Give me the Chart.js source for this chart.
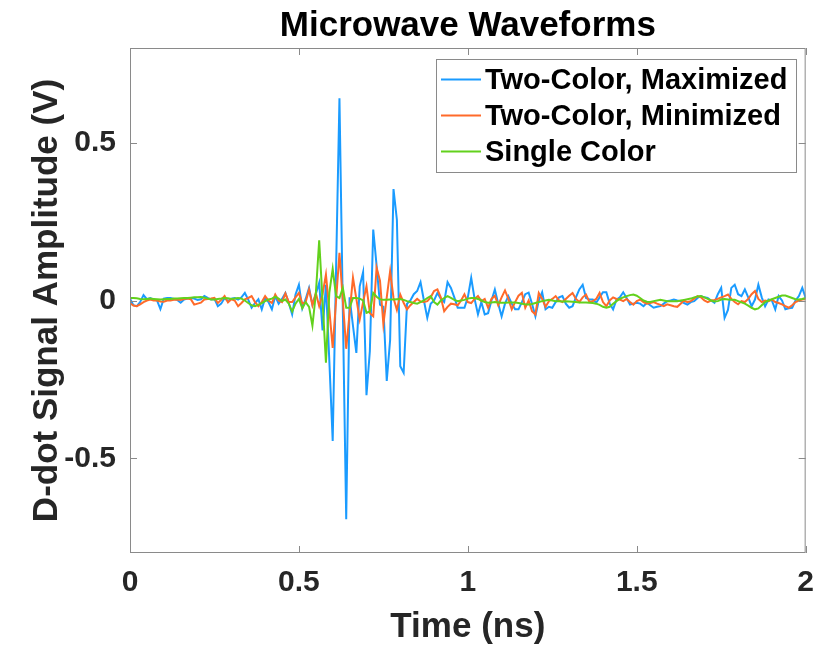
<!DOCTYPE html>
<html lang="en">
<head>
    <meta charset="UTF-8">
    <title>Microwave Waveforms</title>
    <script src="https://cdn.jsdelivr.net/npm/chart.js"></script>
    <style>
        body { margin: 0; background: #fff; }
        canvas { display: block; }
    </style>
</head>
<body>
    <canvas id="waveChart" width="826" height="647"></canvas>
    <script>
        // D-dot probe traces, sampled every 10 ps from 0 to 2 ns
        const sampleStep = 0.01;
        const seriesNames = ['Two-Color, Maximized', 'Two-Color, Minimized', 'Single Color'];
        const seriesColors = ['#1a9bff', '#ff6a2a', '#62d11c'];

        const maximized = [
            0.006, -0.015, -0.018, -0.005, 0.017, 0.004, 0.008, 0.003, 0.000, -0.027,
            0.006, 0.008, 0.008, 0.005, 0.002, -0.007, 0.003, 0.006, 0.008, 0.006,
            0.002, 0.004, 0.014, 0.008, 0.003, 0.005, -0.018, -0.010, 0.008, -0.002,
            0.006, 0.008, 0.003, 0.010, 0.024, 0.003, -0.023, -0.008, 0.004, -0.028,
            0.008, -0.005, -0.028, 0.014, -0.010, 0.005, 0.024, -0.008, -0.044, 0.019,
            0.050, -0.025, 0.005, 0.040, -0.013, 0.020, 0.056, -0.095, 0.050, -0.190,
            -0.445, 0.100, 0.641, -0.030, -0.693, 0.010, -0.080, -0.166, 0.045, 0.090,
            -0.300, -0.160, 0.225, 0.110, -0.013, -0.020, -0.255, -0.125, 0.353, 0.256,
            -0.208, -0.229, -0.010, 0.000, 0.020, 0.030, 0.058, 0.000, -0.055, -0.010,
            0.000, 0.024, 0.005, -0.005, 0.058, 0.040, 0.010, -0.023, -0.023, -0.023,
            0.010, 0.072, 0.005, -0.044, -0.005, -0.044, -0.040, 0.000, 0.035, -0.010,
            -0.050, -0.010, 0.014, -0.010, -0.028, -0.028, -0.005, 0.020, 0.025, -0.010,
            -0.050, 0.000, 0.026, -0.028, -0.020, -0.023, -0.005, 0.010, 0.014, -0.010,
            -0.023, -0.018, 0.010, 0.035, 0.050, 0.008, 0.003, 0.003, -0.007, 0.010,
            0.026, 0.026, -0.010, -0.028, 0.003, 0.010, 0.026, 0.008, -0.013, -0.010,
            -0.007, -0.010, -0.018, -0.007, -0.015, -0.023, -0.020, -0.018, -0.010, -0.002,
            0.000, 0.003, 0.000, -0.002, -0.008, -0.013, -0.005, -0.002, 0.008, 0.014,
            0.010, 0.008, 0.000, -0.007, 0.020, 0.040, -0.055, -0.030, 0.040, 0.050,
            0.020, 0.014, 0.035, 0.010, -0.018, 0.003, 0.050, 0.010, -0.018, 0.003,
            0.000, -0.028, 0.014, 0.000, -0.028, -0.025, -0.023, 0.000, 0.014, 0.040,
            0.008
        ];

        const minimized = [
            -0.008, -0.016, -0.018, -0.012, -0.005, 0.000, 0.003, 0.000, 0.000, -0.003,
            -0.004, 0.000, 0.000, 0.002, 0.003, 0.002, 0.005, 0.006, 0.004, -0.013,
            -0.010, -0.007, 0.003, 0.005, 0.006, 0.008, -0.008, 0.002, 0.014, -0.006,
            0.004, 0.000, -0.018, -0.008, 0.004, 0.008, 0.014, -0.005, -0.018, -0.005,
            0.014, 0.000, -0.008, 0.019, 0.000, -0.005, 0.022, -0.005, -0.005, 0.010,
            0.024, -0.010, -0.005, 0.035, -0.015, 0.024, -0.018, 0.020, 0.082, -0.030,
            -0.150, 0.000, 0.151, 0.000, -0.153, -0.040, 0.072, 0.005, -0.060, -0.005,
            0.045, -0.040, -0.050, 0.104, 0.063, -0.075, 0.010, 0.093, 0.008, -0.030,
            0.019, -0.007, -0.028, -0.015, -0.005, 0.005, -0.003, -0.005, -0.002, 0.010,
            0.030, 0.035, 0.010, -0.034, -0.020, -0.010, -0.012, -0.015, 0.000, 0.020,
            -0.005, -0.008, 0.005, 0.014, -0.002, 0.005, -0.023, 0.005, 0.015, -0.015,
            0.010, 0.032, 0.005, -0.028, -0.005, 0.015, 0.024, -0.023, 0.000, -0.034,
            -0.044, 0.024, 0.005, -0.020, -0.002, 0.005, 0.014, 0.000, -0.005, 0.005,
            0.015, 0.024, 0.005, -0.005, 0.010, 0.019, -0.005, -0.002, 0.005, 0.024,
            -0.005, -0.018, 0.000, 0.010, 0.005, 0.003, -0.002, 0.005, -0.005, -0.013,
            -0.002, 0.003, -0.005, -0.010, -0.008, -0.005, -0.010, -0.014, -0.018, -0.012,
            -0.015, -0.018, -0.020, -0.010, 0.000, -0.005, -0.002, 0.006, 0.014, 0.010,
            0.000, -0.005, 0.000, 0.002, 0.005, 0.010, 0.014, 0.019, 0.005, -0.005,
            -0.012, -0.002, -0.005, 0.005, 0.020, 0.030, 0.005, -0.005, 0.000, -0.002,
            0.003, -0.005, -0.008, -0.012, -0.018, -0.023, -0.015, -0.005, 0.000, 0.003,
            0.005
        ];

        const singleColor = [
            0.008, 0.008, 0.007, 0.005, 0.004, 0.005, 0.006, 0.005, 0.004, 0.003,
            0.004, 0.005, 0.005, 0.006, 0.006, 0.007, 0.008, 0.008, 0.009, 0.010,
            0.010, 0.011, 0.009, 0.006, 0.003, 0.003, 0.005, 0.006, 0.008, 0.007,
            0.005, 0.006, 0.008, 0.006, 0.000, -0.008, -0.015, -0.018, -0.014, -0.008,
            -0.002, 0.003, 0.006, 0.012, 0.006, -0.002, 0.003, -0.010, -0.035, -0.010,
            0.005, -0.025, -0.005, -0.020, -0.080, 0.020, 0.191, 0.000, -0.197, 0.024,
            0.100, 0.014, 0.008, 0.040, -0.023, -0.023, 0.008, 0.008, 0.006, 0.000,
            -0.039, -0.035, 0.024, 0.012, 0.004, 0.002, 0.002, 0.003, 0.003, 0.004,
            0.005, 0.002, -0.002, -0.005, -0.008, -0.010, -0.005, 0.000, 0.008, 0.014,
            -0.005, -0.013, 0.000, 0.008, 0.014, 0.008, 0.002, -0.002, 0.000, 0.002,
            0.006, 0.008, 0.008, 0.005, 0.000, -0.005, -0.007, -0.006, -0.005, -0.006,
            -0.007, -0.007, -0.006, -0.006, -0.006, -0.008, -0.010, -0.012, -0.013, -0.011,
            -0.008, -0.005, -0.002, 0.000, 0.002, 0.000, -0.002, -0.002, -0.003, -0.002,
            -0.003, -0.004, -0.005, -0.006, -0.006, -0.006, -0.007, -0.008, -0.010, -0.014,
            -0.020, -0.023, -0.020, -0.010, -0.002, 0.005, 0.010, 0.014, 0.017, 0.019,
            0.015, 0.008, 0.000, -0.004, -0.005, -0.002, 0.000, 0.002, 0.000, -0.002,
            -0.002, -0.002, -0.002, 0.000, 0.002, 0.004, 0.006, 0.010, 0.013, 0.014,
            0.010, 0.005, 0.000, -0.003, -0.002, 0.003, 0.005, 0.003, 0.002, 0.002,
            -0.002, -0.006, -0.010, -0.016, -0.023, -0.028, -0.025, -0.015, -0.005, 0.000,
            0.004, 0.008, 0.012, 0.016, 0.016, 0.012, 0.008, 0.004, 0.003, 0.005,
            0.008
        ];

        const xTicks = [0, 0.5, 1, 1.5, 2];
        const yTicks = [-0.5, 0, 0.5];

        const timeNs = maximized.map((_, i) => +(i * sampleStep).toFixed(2));
        const toPoints = arr => arr.map((v, i) => ({ x: timeNs[i], y: v }));

        const FONT = '"Liberation Sans", Arial, Helvetica, sans-serif';

        // frame, inward tick marks, title and in-plot legend
        const axesDecor = {
            id: 'axesDecor',
            afterDraw(chart) {
                const ctx = chart.ctx;
                const a = chart.chartArea;
                const xs = chart.scales.x, ys = chart.scales.y;
                const tick = 7;
                ctx.save();
                ctx.strokeStyle = '#8a8a8a';
                ctx.lineWidth = 1;
                ctx.strokeRect(a.left + 0.5, a.top + 0.5, a.right - a.left - 1, a.bottom - a.top - 1);
                ctx.beginPath();
                xTicks.forEach(v => {
                    const px = Math.round(xs.getPixelForValue(v)) + 0.5;
                    ctx.moveTo(px, a.bottom); ctx.lineTo(px, a.bottom - tick);
                    ctx.moveTo(px, a.top); ctx.lineTo(px, a.top + tick);
                });
                yTicks.forEach(v => {
                    const py = Math.round(ys.getPixelForValue(v)) + 0.5;
                    ctx.moveTo(a.left, py); ctx.lineTo(a.left + tick, py);
                    ctx.moveTo(a.right, py); ctx.lineTo(a.right - tick, py);
                });
                ctx.stroke();

                // title
                ctx.fillStyle = '#000';
                ctx.font = 'bold 35px ' + FONT;
                ctx.textAlign = 'center';
                ctx.textBaseline = 'alphabetic';
                ctx.fillText('Microwave Waveforms', (a.left + a.right) / 2, 36);

                // legend box
                const lx = 436.5, ly = 59.5, lw = 360, lh = 113;
                ctx.fillStyle = '#fff';
                ctx.fillRect(lx, ly, lw, lh);
                ctx.strokeStyle = '#8a8a8a';
                ctx.strokeRect(lx, ly, lw, lh);
                ctx.font = 'bold 29px ' + FONT;
                ctx.textAlign = 'left';
                ctx.textBaseline = 'middle';
                chart.data.datasets.forEach((ds, i) => {
                    const ry = 79.5 + i * 36;
                    ctx.strokeStyle = ds.borderColor;
                    ctx.lineWidth = 2;
                    ctx.beginPath();
                    ctx.moveTo(441, ry); ctx.lineTo(481, ry);
                    ctx.stroke();
                    ctx.fillStyle = '#000';
                    ctx.fillText(ds.label, 485, ry + 1);
                });
                ctx.restore();
            }
        };

        const ctx = document.getElementById('waveChart').getContext('2d');
        new Chart(ctx, {
            type: 'line',
            data: {
                datasets: [
                    { label: seriesNames[0], data: toPoints(maximized), borderColor: seriesColors[0], order: 3 },
                    { label: seriesNames[1], data: toPoints(minimized), borderColor: seriesColors[1], order: 2 },
                    { label: seriesNames[2], data: toPoints(singleColor), borderColor: seriesColors[2], order: 1 }
                ]
            },
            options: {
                responsive: false,
                animation: false,
                layout: { padding: { top: 48, right: 18, left: 0, bottom: 0 } },
                elements: {
                    line: { borderWidth: 2, tension: 0, fill: false },
                    point: { radius: 0 }
                },
                plugins: {
                    legend: { display: false },
                    title: { display: false },
                    tooltip: { enabled: false }
                },
                scales: {
                    x: {
                        type: 'linear',
                        min: 0,
                        max: 2,
                        afterBuildTicks: s => { s.ticks = xTicks.map(v => ({ value: v })); },
                        afterFit: s => { s.height = 94; },
                        grid: { display: false, drawTicks: false },
                        border: { display: false },
                        ticks: {
                            padding: 12,
                            color: '#262626',
                            font: { family: FONT, size: 30, weight: 'bold' },
                            maxRotation: 0,
                            callback: v => String(v)
                        },
                        title: {
                            display: true,
                            text: 'Time (ns)',
                            color: '#262626',
                            font: { family: FONT, size: 35, weight: 'bold', lineHeight: 1 },
                            padding: { top: 0, bottom: 2 }
                        }
                    },
                    y: {
                        min: -0.8,
                        max: 0.8,
                        afterBuildTicks: s => { s.ticks = yTicks.map(v => ({ value: v })); },
                        afterFit: s => { s.width = 130; },
                        grid: { display: false, drawTicks: false },
                        border: { display: false },
                        ticks: {
                            padding: 14,
                            color: '#262626',
                            font: { family: FONT, size: 30, weight: 'bold' },
                            callback: v => String(v)
                        },
                        title: {
                            display: true,
                            text: 'D-dot Signal Amplitude (V)',
                            color: '#262626',
                            font: { family: FONT, size: 35, weight: 'bold', lineHeight: 1 },
                            padding: { top: 30, bottom: 0 }
                        }
                    }
                }
            },
            plugins: [axesDecor]
        });
    </script>
</body>
</html>
